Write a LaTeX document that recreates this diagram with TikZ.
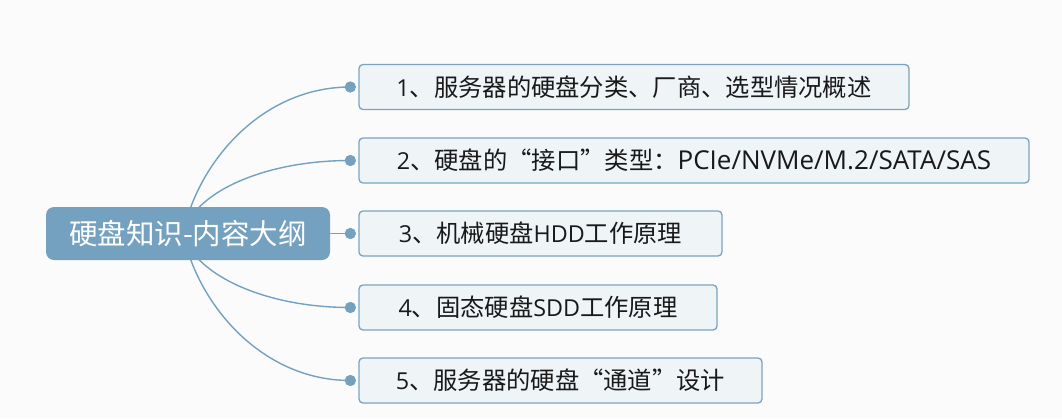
\documentclass[tikz,border=0pt]{standalone}
\usepackage{fontspec}
\setmainfont{Noto Sans CJK SC}
\newfontfamily\latinfont[Scale=0.96]{Open Sans}
\newfontfamily\latinwide[Scale=1.07]{Open Sans}
\usetikzlibrary{calc}
\definecolor{bg}{RGB}{251,251,251}
\definecolor{rootfill}{RGB}{115,161,191}
\definecolor{boxfill}{RGB}{239,244,247}
\definecolor{boxline}{RGB}{123,163,193}
\definecolor{txt}{RGB}{25,25,25}
\newcommand{\lat}[1]{{\latinfont #1}}
\newcommand{\latw}[1]{{\latinwide #1}}
\tikzset{
  rootbox/.style={draw=none, fill=rootfill, rounded corners=8pt, minimum width=284pt, minimum height=53pt, inner sep=0pt, text=white, font=\fontsize{28.5}{32}\selectfont},
  childbox/.style={draw=boxline, line width=1.3pt, fill=boxfill, rounded corners=4pt, minimum height=45pt, inner sep=0pt, text=txt, font=\fontsize{24.3}{28}\selectfont},
  dotnode/.style={circle, fill=rootfill, draw=none, minimum size=11pt, inner sep=0pt},
  conn/.style={draw=rootfill, line width=1.4pt}
}
\begin{document}
\begin{tikzpicture}[x=1pt,y=-1pt]
\fill[bg] (0,0) rectangle (1062,418);
\useasboundingbox (0,0) rectangle (1062,418);
% children
\node[childbox, minimum width=550pt] (c1) at (634,87) {\lat{1}、服务器的硬盘分类、厂商、选型情况概述};
\node[childbox, minimum width=670pt] (c2) at (694,160.5) {\lat{2}、硬盘的“接口”类型：\latw{PCIe/NVMe/M.2/SATA/SAS}};
\node[childbox, minimum width=363pt] (c3) at (540.5,233.5) {\lat{3}、机械硬盘\lat{HDD}工作原理};
\node[childbox, minimum width=358pt] (c4) at (538,307.5) {\lat{4}、固态硬盘\lat{SDD}工作原理};
\node[childbox, minimum width=403pt] (c5) at (560.5,380.5) {\lat{5}、服务器的硬盘“通道”设计};
% dots
\foreach \i in {1,...,5}{
  \node[dotnode] (d\i) at ($(c\i.west)+(-8,0)$) {};
}
% root frame for anchors (drawn on top after connectors)
\path (188,233.5) node[minimum width=284pt, minimum height=53pt, inner sep=0pt] (root) {};
\coordinate (s1) at ($(root.north west)+(143,6)$);
\coordinate (s2) at ($(root.north west)+(151,3)$);
\coordinate (s4) at ($(root.south west)+(151,-3)$);
\coordinate (s5) at ($(root.south west)+(143,-6)$);
\draw[conn] (s1) .. controls +(21,-63) and +(-81,0) .. (d1.center);
\draw[conn] (s2) .. controls +(25,-28) and +(-71,0) .. (d2.center);
\draw[conn] (root.east) -- (d3.center);
\draw[conn] (s4) .. controls +(25,28) and +(-71,0) .. (d4.center);
\draw[conn] (s5) .. controls +(21,63) and +(-81,0) .. (d5.center);
\node[rootbox] (rootdraw) at (root.center) {硬盘知识-内容大纲};
\foreach \i in {1,...,5}{
  \node[dotnode] at (d\i) {};
}
\end{tikzpicture}
\end{document}
